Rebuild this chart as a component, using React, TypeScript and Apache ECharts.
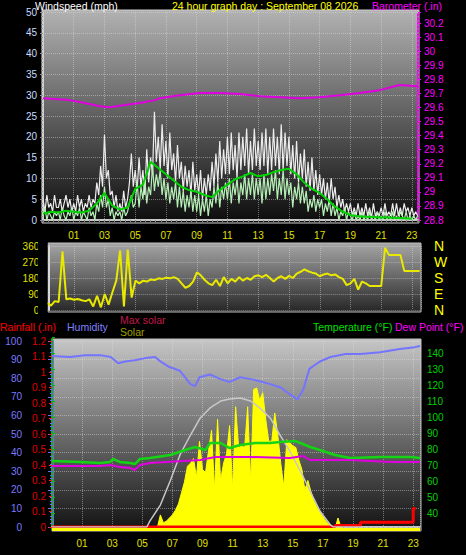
import React, { useEffect, useRef } from "react";
import * as echarts from "echarts";

// ---------- data (hours of the day; -1 = 23:00 previous day) ----------
const HOUR_SHIFT = 1; // axis unit = hour + 1 so odd hours fall on multiples of 2

// top panel: wind (mph), sampled every 0.125 h from -1 (one row = one hour)
const windStart = -1;
const windStep = 0.125;
const windGust = [
  5, 2, 6, 3, 4, 2, 6, 3,
  3, 5, 2, 4, 6, 3, 5, 2,
  4, 2, 6, 3, 5, 2, 4, 3,
  6, 3, 5, 4, 9, 6, 13, 8,
  20.5, 10, 12, 6, 7, 3, 6, 2,
  4, 2, 7, 3, 5, 9, 16, 8,
  12, 7, 15, 8, 12, 6, 17, 9,
  15, 11, 26, 14, 20, 12, 23, 13,
  19, 10, 21, 12, 16, 9, 18, 10,
  14, 7, 13, 8, 12, 6, 14, 7,
  11, 6, 12, 5, 10, 6, 11, 7,
  14, 8, 16, 9, 19, 10, 17, 11,
  20, 11, 21, 12, 18, 10, 21, 12,
  20, 13, 22, 11, 19, 12, 22, 13,
  19, 12, 21, 13, 22, 11, 20, 12,
  22, 13, 20, 11, 23, 12, 21, 13,
  20, 11, 18, 10, 19, 9, 16, 10,
  17, 8, 14, 7, 15, 7, 12, 6,
  11, 6, 10, 5, 9, 4, 10, 5,
  8, 3, 6, 3, 5, 2, 4, 2,
  4, 1, 3, 1, 4, 1, 3, 1,
  4, 1, 3, 0.5, 4, 1, 2, 1,
  3, 1, 4, 1, 2, 1, 4, 1,
  4, 1, 3, 1, 4, 2, 3, 1,
  3, 1, 2, 1,
];
const windSpeed = [
  1, 3, 0, 2, 1, 0, 2, 1,
  2, 0, 3, 1, 0, 2, 1, 3,
  0, 2, 1, 3, 0, 2, 1, 0,
  3, 1, 2, 0, 4, 2, 6, 3,
  8, 3, 5, 1, 3, 0, 2, 1,
  2, 0, 3, 1, 2, 4, 6, 3,
  4, 9, 3, 8, 5, 10, 4, 8,
  6, 13, 7, 11, 8, 12, 6, 10,
  5, 9, 4, 8, 5, 9, 3, 8,
  3, 7, 2, 6, 3, 7, 2, 6,
  2, 6, 1, 5, 2, 6, 1, 5,
  3, 8, 4, 9, 3, 8, 5, 9,
  5, 10, 4, 9, 6, 10, 4, 9,
  6, 11, 5, 10, 6, 11, 5, 10,
  6, 10, 4, 11, 5, 10, 6, 11,
  7, 12, 5, 10, 6, 12, 5, 10,
  6, 9, 3, 8, 5, 9, 4, 8,
  4, 7, 2, 5, 3, 6, 2, 5,
  3, 5, 1, 4, 2, 5, 1, 4,
  1, 3, 0, 2, 1, 3, 0, 2,
  1, 0, 2, 0, 1, 0, 2, 0,
  1, 0, 2, 0, 1, 0, 2, 0,
  1, 0, 2, 0, 1, 0, 2, 0,
  1, 0, 2, 1, 0, 2, 0, 1,
  0, 1, 0, 1,
];
// average wind, every 0.5 h from -1
const windAvgStart = -1;
const windAvgStep = 0.5;
const windAvg = [
  1.5, 2, 1.8, 2.2, 2, 1.8, 2.2, 4, 6.5, 3.5, 2.5, 3, 7.5, 8.5, 14, 12.5, 11, 9.5, 8, 7.2,
  6.8, 6, 5.5, 7.2, 8.5, 9.8, 10.5, 11.3, 10.5, 10.8, 11.5, 12, 12.3, 11, 9, 7.5, 6.5, 5, 3.2, 2,
  1.2, 0.9, 0.8, 0.7, 0.6, 0.6, 0.5, 0.4, 0.3,
];
// barometer (inHg)
const baroHours = [-1, 0.7, 1.4, 2.7, 3.35, 4.65, 5.3, 6.3, 6.6, 7.9, 9.2, 10.5, 11.8, 13.1, 14.4, 15.7, 17.0, 18.3, 19.6, 20.9, 22.2, 23.4];
const baro = [29.667, 29.653, 29.639, 29.61, 29.603, 29.624, 29.632, 29.653, 29.667, 29.688, 29.703, 29.703, 29.696, 29.681, 29.674, 29.667, 29.674, 29.688, 29.703, 29.724, 29.76, 29.752];

// middle panel: wind direction (degrees), every 0.25 h from -0.75
const dirStart = -0.75;
const dirStep = 0.25;
const windDir = [
  40, 25, 50, 45, 330, 60, 65, 58, 62, 55,
  50, 60, 20, 80, 15, 90, 30, 100, 165, 335,
  20, 340, 70, 165, 150, 165, 160, 172, 168, 178,
  175, 182, 178, 185, 175, 150, 125, 135, 160, 212,
  195, 170, 150, 140, 170, 135, 185, 150, 175, 160,
  185, 165, 180, 170, 190, 195, 185, 198, 180, 160,
  180, 190, 175, 192, 180, 205, 215, 228, 218, 210,
  205, 190, 200, 205, 195, 200, 185, 175, 140, 150,
  175, 115, 160, 150, 135, 135, 135, 135, 350, 310,
  310, 310, 310, 220, 220, 220, 220, 220,
];
const dirTickLabels: Record<number, string> = { 0: "N", 90: "E", 180: "S", 270: "W", 360: "N" };

// bottom panel
const humHours = [-1, 0.2, 1.2, 2.2, 2.9, 3.4, 3.85, 4.5, 5.2, 5.85, 6.2, 6.8, 7.5, 8.2, 8.5, 8.8, 9.5, 10.2, 10.8, 11.5, 12.2, 12.8, 13.5, 14.2, 14.8, 15.3, 15.7, 16.1, 16.8, 17.5, 18.5, 19.5, 20.8, 22.1, 23.1, 23.45];
const humidity = [92, 91.4, 92.4, 92.4, 91.4, 88, 89, 89.7, 90.8, 91.4, 89, 86, 84, 76.8, 75.7, 80.5, 82, 79.5, 78, 80.5, 79.5, 78.4, 76.8, 75, 71.4, 68.6, 74, 85, 89, 91.4, 93, 93, 94, 95.7, 96.7, 97.3];

const tempHours = [-1, 0.86, 2.2, 2.86, 3.06, 3.5, 4.2, 4.5, 4.85, 5.5, 6.85, 7.85, 8.5, 9.2, 9.5, 10.2, 10.8, 11.5, 12.5, 13.5, 14.15, 15.15, 15.5, 16.15, 16.8, 17.8, 18.8, 20.8, 22.8, 23.45];
const temperature = [72.5, 71.9, 71.25, 71.9, 73.75, 71.9, 71.25, 70.6, 73.75, 74.4, 76.25, 79.4, 81.25, 79.4, 83.75, 83.75, 80.6, 82.5, 83.75, 83.75, 84.4, 85, 83.75, 81.25, 79.4, 76.25, 74.4, 75, 75, 74.4];

const dewHours = [-1, 2.2, 2.86, 3.5, 4.2, 4.5, 4.85, 5.5, 8.85, 9.85, 12.2, 14.8, 15.7, 16.15, 18.8, 21.5, 23.45];
const dewPoint = [69.4, 69.4, 70, 68.75, 68.1, 66.9, 70, 71.25, 73.1, 75, 75, 74.4, 75.6, 73.1, 73.1, 71.9, 71.9];

const maxSolarHours = [-1, 5.3, 5.5, 6.2, 6.85, 7.5, 8.2, 8.85, 9.5, 10.2, 10.8, 11.5, 12.2, 12.8, 13.5, 14.15, 14.8, 15.5, 16.15, 16.8, 17.5, 17.7, 23.45];
const maxSolar = [0, 0, 38, 140, 294, 460, 587, 696, 760, 804, 817, 823, 804, 760, 696, 587, 485, 357, 230, 102, 13, 0, 0];

// solar (W/m2), every 0.2 h from 5.0, zero elsewhere
const solarStart = 5.0;
const solarStep = 0.2;
const solar = [
  0, 0, 0, 0, 5, 10, 90, 40, 50, 70,
  90, 120, 160, 230, 300, 400, 420, 450, 330, 560,
  380, 360, 500, 630, 250, 700, 310, 420, 480, 660,
  250, 780, 520, 530, 520, 780, 300, 890, 900, 820,
  870, 700, 560, 560, 740, 600, 420, 270, 570, 550,
  530, 520, 440, 380, 250, 310, 240, 180, 140, 110,
  80, 50, 30, 15, 0, 70, 10, 0,
];
const solarEdgeHours = [-1, 23.45];

const rainHours = [-1, 17.8, 19.5, 23.0, 23.15];
const rain = [0, 0.01, 0.03, 0.12, 0.12];

// ---------- helpers ----------
const FONT = "'Liberation Sans', Arial, sans-serif";
const pairs = (hours: number[], vals: number[]) => hours.map((h, i) => [h + HOUR_SHIFT, vals[i]]);
const regular = (start: number, step: number, vals: number[]) =>
  vals.map((v, i) => [start + i * step + HOUR_SHIFT, v]);

const hourLabel = (v: number) => {
  const h = v - HOUR_SHIFT;
  const r = Math.round(h);
  if (Math.abs(h - r) > 0.01 || r < 1 || r > 23 || r % 2 === 0) return "";
  return (r < 10 ? "0" : "") + r;
};
const tenthLabel = (v: number) => {
  const t = v * 10;
  if (Math.abs(t - Math.round(t)) > 0.01) return "";
  return String(Math.round(t) / 10);
};

const grad = (a: string, b: string) =>
  new echarts.graphic.LinearGradient(0, 0, 0, 1, [
    { offset: 0, color: a },
    { offset: 1, color: b },
  ]);

const dottedGrid = { show: true, lineStyle: { type: "dotted", color: "rgba(225,225,225,0.45)", width: 1 } };

export default function App() {
  const ref = useRef<HTMLDivElement>(null);

  useEffect(() => {
    if (!ref.current) return;
    const chart = echarts.init(ref.current, undefined, { renderer: "svg" });

    const solarData = [
      [solarEdgeHours[0] + HOUR_SHIFT, 0],
      ...regular(solarStart, solarStep, solar),
      [solarEdgeHours[1] + HOUR_SHIFT, 0],
    ];

    const txt = (x: number, y: number, text: string, fill: string, size = 10.5) => ({
      type: "text",
      x,
      y,
      silent: true,
      z: 60,
      style: { text, fill, font: `${size}px ${FONT}`, textVerticalAlign: "top" },
    });

    const option: any = {
      animation: false,
      backgroundColor: "#000000",
      textStyle: { fontFamily: FONT },
      graphic: [
        { type: "rect", z: -10, silent: true, shape: { x: 42, y: 10, width: 377, height: 213 }, style: { fill: grad("#b2b2b2", "#0c0c0c"), stroke: "#cfcfcf", lineWidth: 1 } },
        { type: "rect", z: -10, silent: true, shape: { x: 48, y: 243, width: 373, height: 69 }, style: { fill: grad("#a6a6a6", "#262626"), stroke: "#bdbdbd", lineWidth: 1 } },
        { type: "rect", z: -10, silent: true, shape: { x: 52, y: 339, width: 369, height: 192 }, style: { fill: grad("#c6c6c6", "#121212"), stroke: "#bdbdbd", lineWidth: 1 } },
        { type: "rect", z: 50, silent: true, shape: { x: 38, y: 238, width: 9.5, height: 78 }, style: { fill: "#000000" } },
        txt(35, 0.5, "Windspeed (mph)", "#ffffff"),
        txt(172, 0.5, "24 hour graph day : September 08 2026", "#ffff00"),
        txt(372, 0.5, "Barometer (.in)", "#ff00ff"),
        txt(0, 321, "Rainfall (.in)", "#ff0000"),
        txt(67, 321, "Humidity", "#8080ff"),
        txt(120, 314, "Max solar", "#c01848"),
        txt(120, 326, "Solar", "#a0a000"),
        txt(313, 321, "Temperature (°F)", "#00e000"),
        txt(395, 321, "Dew Point (°F)", "#ff00ff"),
      ],
      grid: [
        { left: 43, top: 12, width: 375, height: 208 },
        { left: 43.3, top: 246, width: 377.7, height: 64 },
        { left: 52, top: 341, width: 368, height: 186 },
        { left: 52, top: 337, width: 368, height: 192 },
      ],
      xAxis: [
        {
          gridIndex: 0, type: "value", min: 0, max: 24.4, interval: 2, offset: 2,
          axisLine: { show: true, lineStyle: { color: "#c8c8c8", width: 2 } },
          axisTick: { show: true, length: 3, lineStyle: { color: "#8a8a8a" } },
          minorTick: { show: true, splitNumber: 6, length: 2, lineStyle: { color: "#8a8a8a" } },
          axisLabel: { formatter: hourLabel, color: "#e0e000", fontSize: 10, margin: 8, fontFamily: FONT },
          splitLine: dottedGrid,
        },
        {
          gridIndex: 1, type: "value", min: 0, max: 24.59, interval: 2,
          axisLine: { show: false }, axisTick: { show: false }, axisLabel: { show: false },
          splitLine: dottedGrid,
        },
        {
          gridIndex: 2, type: "value", min: 0, max: 24.45, interval: 2, offset: 3,
          axisLine: { show: true, lineStyle: { color: "#c8c8c8", width: 2 } },
          axisTick: { show: true, length: 3, lineStyle: { color: "#8a8a8a" } },
          minorTick: { show: true, splitNumber: 6, length: 2, lineStyle: { color: "#8a8a8a" } },
          axisLabel: { formatter: hourLabel, color: "#e0e000", fontSize: 10, margin: 8, fontFamily: FONT },
          splitLine: dottedGrid,
        },
        { gridIndex: 3, type: "value", min: 0, max: 24.45, show: false },
      ],
      yAxis: [
        {
          gridIndex: 0, type: "value", min: 0, max: 50, interval: 5,
          axisLine: { show: true, lineStyle: { color: "#cfcfcf", width: 2 } },
          axisTick: { show: true, length: 3, lineStyle: { color: "#909090" } },
          minorTick: { show: true, splitNumber: 5, length: 2, lineStyle: { color: "#909090" } },
          axisLabel: { color: "#c8dcff", fontSize: 10, margin: 6, fontFamily: FONT },
          splitLine: dottedGrid,
        },
        {
          gridIndex: 0, type: "value", position: "right", min: 28.8, max: 30.28, interval: 0.1,
          axisLine: { show: true, lineStyle: { color: "#ff00ff", width: 2, type: "dotted" } },
          axisTick: { show: true, length: 3, lineStyle: { color: "#ff00ff" } },
          axisLabel: { color: "#ff00ff", fontSize: 10, margin: 6, formatter: tenthLabel, fontFamily: FONT },
          splitLine: { show: false },
        },
        {
          gridIndex: 1, type: "value", min: 0, max: 360, interval: 90, offset: -5,
          axisLine: { show: true, lineStyle: { color: "#d8d8d8", width: 2 } },
          axisTick: { show: true, length: 3, lineStyle: { color: "#909090" } },
          axisLabel: { color: "#e0e000", fontSize: 10, margin: 9, fontFamily: FONT },
          splitLine: dottedGrid,
        },
        {
          gridIndex: 1, type: "value", position: "right", min: 0, max: 360, interval: 90,
          axisLine: { show: false }, axisTick: { show: false }, splitLine: { show: false },
          axisLabel: { color: "#ffff00", fontSize: 14, margin: 13, fontFamily: FONT, formatter: (v: number) => dirTickLabels[Math.round(v)] ?? "" },
        },
        {
          gridIndex: 2, type: "value", position: "left", offset: 22, min: 0, max: 100, interval: 10,
          axisLine: { show: true, lineStyle: { color: "#6a6aff", width: 3 } },
          axisTick: { show: true, length: 4, lineStyle: { color: "#6a6aff" } },
          minorTick: { show: true, splitNumber: 5, length: 2, lineStyle: { color: "#6a6aff" } },
          axisLabel: { color: "#7a7aff", fontSize: 10, margin: 8, fontFamily: FONT },
          splitLine: dottedGrid,
        },
        {
          gridIndex: 2, type: "value", position: "left", offset: 0, min: 0, max: 1.2, interval: 0.1,
          axisLine: { show: true, lineStyle: { color: "#ff2020", width: 2, type: "dotted" } },
          axisTick: { show: true, length: 3, lineStyle: { color: "#ff2020" } },
          axisLabel: { color: "#e00000", fontSize: 10, margin: 6, formatter: tenthLabel, fontFamily: FONT },
          splitLine: { show: false },
        },
        { gridIndex: 2, type: "value", min: 0, max: 1187, show: false, splitLine: { show: false } },
        {
          gridIndex: 3, type: "value", position: "right", min: 30, max: 150, interval: 10,
          axisLine: { show: true, lineStyle: { color: "#00c000", width: 2, type: "dotted" } },
          axisTick: { show: true, length: 3, lineStyle: { color: "#00c000" } },
          axisLabel: { color: "#00d000", fontSize: 10, margin: 7, fontFamily: FONT, formatter: (v: number) => (v <= 30 || v >= 150 ? "" : String(v)) },
          splitLine: { show: false },
        },
        { gridIndex: 3, type: "value", min: 0, max: 1225, show: false, splitLine: { show: false } },
      ],
      series: [
        // top panel
        { name: "Barometer", type: "line", xAxisIndex: 0, yAxisIndex: 1, data: pairs(baroHours, baro), symbol: "none", lineStyle: { color: "#e000e0", width: 2 }, z: 5 },
        { name: "Gust", type: "line", xAxisIndex: 0, yAxisIndex: 0, data: regular(windStart, windStep, windGust), symbol: "none", lineStyle: { color: "#ececec", width: 1.2 } },
        { name: "Wind", type: "line", xAxisIndex: 0, yAxisIndex: 0, data: regular(windStart, windStep, windSpeed), symbol: "none", lineStyle: { color: "#b6efb6", width: 1.2 } },
        { name: "Average", type: "line", xAxisIndex: 0, yAxisIndex: 0, data: regular(windAvgStart, windAvgStep, windAvg), symbol: "none", lineStyle: { color: "#00d400", width: 2 } },
        // middle panel
        { name: "Direction", type: "line", xAxisIndex: 1, yAxisIndex: 2, data: regular(dirStart, dirStep, windDir), symbol: "none", lineStyle: { color: "#e8e800", width: 2 } },
        // bottom panel
        {
          name: "Solar", type: "line", xAxisIndex: 3, yAxisIndex: 8, data: solarData, symbol: "none",
          lineStyle: { color: "#ffff00", width: 1 }, areaStyle: { color: "#ffff00", opacity: 1 }, z: 1,
          markLine: { silent: true, symbol: "none", label: { show: false }, lineStyle: { color: "#ffff00", width: 3, type: "solid" }, data: [{ yAxis: 0 }] },
        },
        { name: "Humidity", type: "line", xAxisIndex: 2, yAxisIndex: 4, data: pairs(humHours, humidity), symbol: "none", lineStyle: { color: "#7474ff", width: 2 } },
        { name: "Rainfall", type: "line", step: "end", xAxisIndex: 2, yAxisIndex: 5, data: pairs(rainHours, rain), symbol: "none", lineStyle: { color: "#ff0000", width: 3 } },
        { name: "Max solar", type: "line", xAxisIndex: 2, yAxisIndex: 6, data: pairs(maxSolarHours, maxSolar), symbol: "none", lineStyle: { color: "#c8c8c8", width: 1.5 } },
        { name: "Temperature", type: "line", xAxisIndex: 3, yAxisIndex: 7, data: pairs(tempHours, temperature), symbol: "none", lineStyle: { color: "#14d414", width: 2.5 } },
        { name: "Dew Point", type: "line", xAxisIndex: 3, yAxisIndex: 7, data: pairs(dewHours, dewPoint), symbol: "none", lineStyle: { color: "#e000e0", width: 2 } },
      ],
    };

    chart.setOption(option);
    return () => chart.dispose();
  }, []);

  return (
    <div
      ref={ref}
      style={{ position: "fixed", left: 0, top: 0, width: 466, height: 555, background: "#000" }}
    />
  );
}
